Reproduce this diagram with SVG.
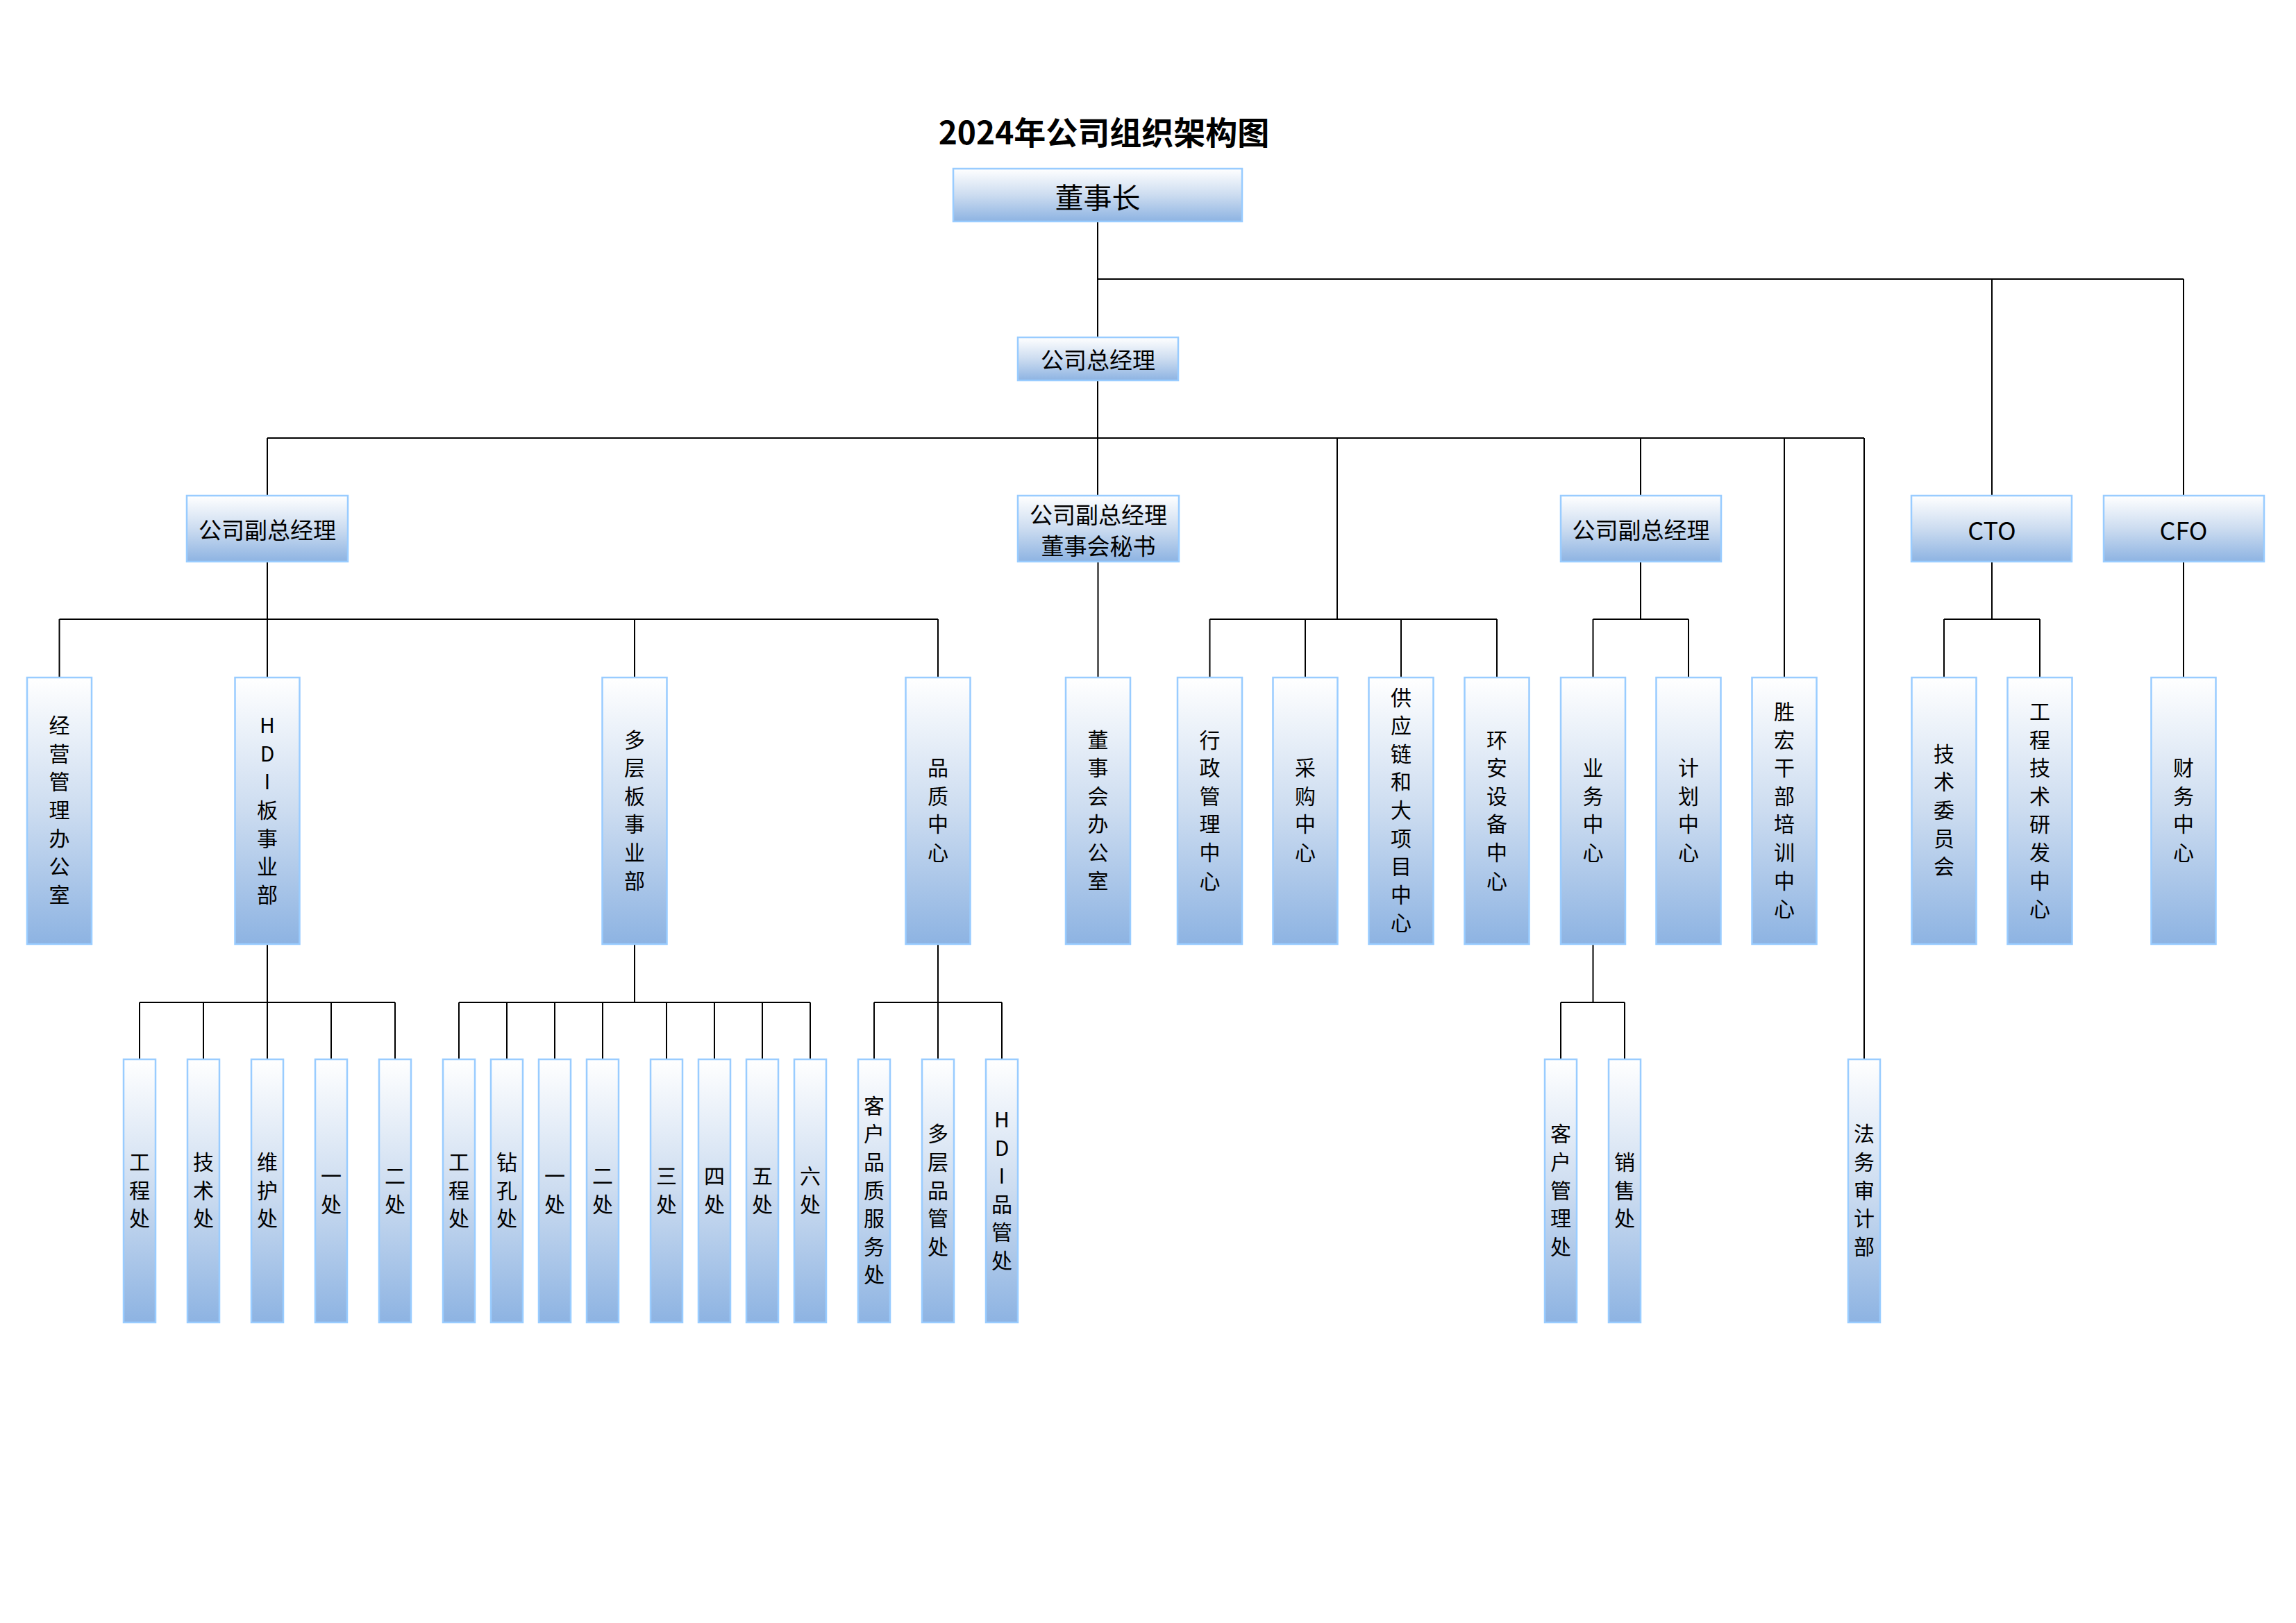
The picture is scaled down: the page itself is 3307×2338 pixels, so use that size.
<svg xmlns="http://www.w3.org/2000/svg" width="3307" height="2338" viewBox="0 0 3307 2338">
<style>
text{font-family:"Noto Sans CJK SC","Microsoft YaHei","Noto Sans",sans-serif;fill:#000}
.title{font-size:46px;font-weight:bold;text-anchor:middle}
.box{fill:url(#grad);stroke:#99CCFF;stroke-width:2.5}
.h{font-size:33px;text-anchor:middle;dominant-baseline:central}
.big{font-size:41px}
.lat{font-size:36px}
.v{font-size:30px;text-anchor:middle;dominant-baseline:central;transform:translateY(-3px)}
.conn{fill:none;stroke:#000;stroke-width:2}
</style>
<defs>
<linearGradient id="grad" x1="0" y1="0" x2="0" y2="1">
<stop offset="0" stop-color="#FFFFFF"/>
<stop offset="0.5" stop-color="#CCDCF0"/>
<stop offset="1" stop-color="#8DB3E2"/>
</linearGradient>
</defs>
<rect width="3307" height="2338" fill="#fff"/>
<text id="title" class="title" x="1590" y="208">2024年公司组织架构图</text>

<g id="connectors" class="conn">
<path d="M1581,319V486 M1581,402H3145 M2869,402V714 M3145,402V714 M1581,548V714"/>
<path d="M385,631H2685 M385,631V714 M1926,631V892 M2363,631V714 M2570,631V976 M2685,631V1526"/>
<path d="M385,809V976 M85.5,892H1351 M85.5,892V976 M914,892V976 M1351,892V976"/>
<path d="M1581.5,809V976"/>
<path d="M1742.5,892H2156 M1742.5,892V976 M1880,892V976 M2018,892V976 M2156,892V976"/>
<path d="M2363,809V892 M2294.5,892H2432 M2294.5,892V976 M2432,892V976"/>
<path d="M2869,809V892 M2800,892H2938 M2800,892V976 M2938,892V976"/>
<path d="M3145,809V976"/>
<path d="M385,1360V1526 M201,1444H569 M201,1444V1526 M293,1444V1526 M477,1444V1526 M569,1444V1526"/>
<path d="M914,1360V1444 M661,1444H1167 M661,1444V1526 M730,1444V1526 M799,1444V1526 M868,1444V1526 M960,1444V1526 M1029,1444V1526 M1098,1444V1526 M1167,1444V1526"/>
<path d="M1351,1360V1526 M1259,1444H1443 M1259,1444V1526 M1443,1444V1526"/>
<path d="M2294.5,1360V1444 M2248,1444H2340 M2248,1444V1526 M2340,1444V1526"/>
</g>

<g id="n-chairman"><rect class="box" x="1373" y="243" width="416" height="76"/><text class="h big" x="1581" y="282">董事长</text></g>
<g id="n-gm"><rect class="box" x="1466" y="486" width="231" height="62"/><text class="h" x="1581.5" y="517">公司总经理</text></g>

<g id="n-vp1"><rect class="box" x="269" y="714" width="232" height="95"/><text class="h" x="385" y="761.5">公司副总经理</text></g>
<g id="n-vp2"><rect class="box" x="1466" y="714" width="232" height="95"/><text class="h" x="1582" y="740">公司副总经理</text><text class="h" x="1582" y="785">董事会秘书</text></g>
<g id="n-vp3"><rect class="box" x="2248" y="714" width="231" height="95"/><text class="h" x="2363.5" y="761.5">公司副总经理</text></g>
<g id="n-cto"><rect class="box" x="2753" y="714" width="231" height="95"/><text class="h lat" x="2869" y="761.5">CTO</text></g>
<g id="n-cfo"><rect class="box" x="3030" y="714" width="231" height="95"/><text class="h lat" x="3145" y="761.5">CFO</text></g>

<g id="n-jygl"><rect class="box" x="39" y="976" width="93" height="384"/><text class="v"><tspan x="85.5" y="1046.2">经</tspan><tspan x="85.5" y="1086.8">营</tspan><tspan x="85.5" y="1127.4">管</tspan><tspan x="85.5" y="1168">理</tspan><tspan x="85.5" y="1208.6">办</tspan><tspan x="85.5" y="1249.2">公</tspan><tspan x="85.5" y="1289.8">室</tspan></text></g>
<g id="n-hdi"><rect class="box" x="338.5" y="976" width="93" height="384"/><text class="v"><tspan x="385" y="1046.2">H</tspan><tspan x="385" y="1086.8">D</tspan><tspan x="385" y="1127.4">I</tspan><tspan x="385" y="1168">板</tspan><tspan x="385" y="1208.6">事</tspan><tspan x="385" y="1249.2">业</tspan><tspan x="385" y="1289.8">部</tspan></text></g>
<g id="n-dcb"><rect class="box" x="867.5" y="976" width="93" height="384"/><text class="v"><tspan x="914" y="1066.5">多</tspan><tspan x="914" y="1107.1">层</tspan><tspan x="914" y="1147.7">板</tspan><tspan x="914" y="1188.3">事</tspan><tspan x="914" y="1228.9">业</tspan><tspan x="914" y="1269.5">部</tspan></text></g>
<g id="n-pz"><rect class="box" x="1304.5" y="976" width="93" height="384"/><text class="v"><tspan x="1351" y="1107.1">品</tspan><tspan x="1351" y="1147.7">质</tspan><tspan x="1351" y="1188.3">中</tspan><tspan x="1351" y="1228.9">心</tspan></text></g>
<g id="n-dsh"><rect class="box" x="1535" y="976" width="93" height="384"/><text class="v"><tspan x="1581.5" y="1066.5">董</tspan><tspan x="1581.5" y="1107.1">事</tspan><tspan x="1581.5" y="1147.7">会</tspan><tspan x="1581.5" y="1188.3">办</tspan><tspan x="1581.5" y="1228.9">公</tspan><tspan x="1581.5" y="1269.5">室</tspan></text></g>
<g id="n-xz"><rect class="box" x="1696" y="976" width="93" height="384"/><text class="v"><tspan x="1742.5" y="1066.5">行</tspan><tspan x="1742.5" y="1107.1">政</tspan><tspan x="1742.5" y="1147.7">管</tspan><tspan x="1742.5" y="1188.3">理</tspan><tspan x="1742.5" y="1228.9">中</tspan><tspan x="1742.5" y="1269.5">心</tspan></text></g>
<g id="n-cg"><rect class="box" x="1833.5" y="976" width="93" height="384"/><text class="v"><tspan x="1880" y="1107.1">采</tspan><tspan x="1880" y="1147.7">购</tspan><tspan x="1880" y="1188.3">中</tspan><tspan x="1880" y="1228.9">心</tspan></text></g>
<g id="n-gyl"><rect class="box" x="1971.5" y="976" width="93" height="384"/><text class="v"><tspan x="2018" y="1005.6">供</tspan><tspan x="2018" y="1046.2">应</tspan><tspan x="2018" y="1086.8">链</tspan><tspan x="2018" y="1127.4">和</tspan><tspan x="2018" y="1168">大</tspan><tspan x="2018" y="1208.6">项</tspan><tspan x="2018" y="1249.2">目</tspan><tspan x="2018" y="1289.8">中</tspan><tspan x="2018" y="1330.4">心</tspan></text></g>
<g id="n-ha"><rect class="box" x="2109.5" y="976" width="93" height="384"/><text class="v"><tspan x="2156" y="1066.5">环</tspan><tspan x="2156" y="1107.1">安</tspan><tspan x="2156" y="1147.7">设</tspan><tspan x="2156" y="1188.3">备</tspan><tspan x="2156" y="1228.9">中</tspan><tspan x="2156" y="1269.5">心</tspan></text></g>
<g id="n-yw"><rect class="box" x="2248" y="976" width="93" height="384"/><text class="v"><tspan x="2294.5" y="1107.1">业</tspan><tspan x="2294.5" y="1147.7">务</tspan><tspan x="2294.5" y="1188.3">中</tspan><tspan x="2294.5" y="1228.9">心</tspan></text></g>
<g id="n-jh"><rect class="box" x="2385.5" y="976" width="93" height="384"/><text class="v"><tspan x="2432" y="1107.1">计</tspan><tspan x="2432" y="1147.7">划</tspan><tspan x="2432" y="1188.3">中</tspan><tspan x="2432" y="1228.9">心</tspan></text></g>
<g id="n-sh"><rect class="box" x="2523.5" y="976" width="93" height="384"/><text class="v"><tspan x="2570" y="1025.9">胜</tspan><tspan x="2570" y="1066.5">宏</tspan><tspan x="2570" y="1107.1">干</tspan><tspan x="2570" y="1147.7">部</tspan><tspan x="2570" y="1188.3">培</tspan><tspan x="2570" y="1228.9">训</tspan><tspan x="2570" y="1269.5">中</tspan><tspan x="2570" y="1310.1">心</tspan></text></g>
<g id="n-jswy"><rect class="box" x="2753.5" y="976" width="93" height="384"/><text class="v"><tspan x="2800" y="1086.8">技</tspan><tspan x="2800" y="1127.4">术</tspan><tspan x="2800" y="1168">委</tspan><tspan x="2800" y="1208.6">员</tspan><tspan x="2800" y="1249.2">会</tspan></text></g>
<g id="n-gcjs"><rect class="box" x="2891.5" y="976" width="93" height="384"/><text class="v"><tspan x="2938" y="1025.9">工</tspan><tspan x="2938" y="1066.5">程</tspan><tspan x="2938" y="1107.1">技</tspan><tspan x="2938" y="1147.7">术</tspan><tspan x="2938" y="1188.3">研</tspan><tspan x="2938" y="1228.9">发</tspan><tspan x="2938" y="1269.5">中</tspan><tspan x="2938" y="1310.1">心</tspan></text></g>
<g id="n-cw"><rect class="box" x="3098.5" y="976" width="93" height="384"/><text class="v"><tspan x="3145" y="1107.1">财</tspan><tspan x="3145" y="1147.7">务</tspan><tspan x="3145" y="1188.3">中</tspan><tspan x="3145" y="1228.9">心</tspan></text></g>

<g id="n-hdi-gc"><rect class="box" x="178" y="1526" width="46" height="379"/><text class="v"><tspan x="201" y="1674.9">工</tspan><tspan x="201" y="1715.5">程</tspan><tspan x="201" y="1756.1">处</tspan></text></g>
<g id="n-hdi-js"><rect class="box" x="270" y="1526" width="46" height="379"/><text class="v"><tspan x="293" y="1674.9">技</tspan><tspan x="293" y="1715.5">术</tspan><tspan x="293" y="1756.1">处</tspan></text></g>
<g id="n-hdi-wh"><rect class="box" x="362" y="1526" width="46" height="379"/><text class="v"><tspan x="385" y="1674.9">维</tspan><tspan x="385" y="1715.5">护</tspan><tspan x="385" y="1756.1">处</tspan></text></g>
<g id="n-hdi-1"><rect class="box" x="454" y="1526" width="46" height="379"/><text class="v"><tspan x="477" y="1695.2">一</tspan><tspan x="477" y="1735.8">处</tspan></text></g>
<g id="n-hdi-2"><rect class="box" x="546" y="1526" width="46" height="379"/><text class="v"><tspan x="569" y="1695.2">二</tspan><tspan x="569" y="1735.8">处</tspan></text></g>

<g id="n-dc-gc"><rect class="box" x="638" y="1526" width="46" height="379"/><text class="v"><tspan x="661" y="1674.9">工</tspan><tspan x="661" y="1715.5">程</tspan><tspan x="661" y="1756.1">处</tspan></text></g>
<g id="n-dc-zk"><rect class="box" x="707" y="1526" width="46" height="379"/><text class="v"><tspan x="730" y="1674.9">钻</tspan><tspan x="730" y="1715.5">孔</tspan><tspan x="730" y="1756.1">处</tspan></text></g>
<g id="n-dc-1"><rect class="box" x="776" y="1526" width="46" height="379"/><text class="v"><tspan x="799" y="1695.2">一</tspan><tspan x="799" y="1735.8">处</tspan></text></g>
<g id="n-dc-2"><rect class="box" x="845" y="1526" width="46" height="379"/><text class="v"><tspan x="868" y="1695.2">二</tspan><tspan x="868" y="1735.8">处</tspan></text></g>
<g id="n-dc-3"><rect class="box" x="937" y="1526" width="46" height="379"/><text class="v"><tspan x="960" y="1695.2">三</tspan><tspan x="960" y="1735.8">处</tspan></text></g>
<g id="n-dc-4"><rect class="box" x="1006" y="1526" width="46" height="379"/><text class="v"><tspan x="1029" y="1695.2">四</tspan><tspan x="1029" y="1735.8">处</tspan></text></g>
<g id="n-dc-5"><rect class="box" x="1075" y="1526" width="46" height="379"/><text class="v"><tspan x="1098" y="1695.2">五</tspan><tspan x="1098" y="1735.8">处</tspan></text></g>
<g id="n-dc-6"><rect class="box" x="1144" y="1526" width="46" height="379"/><text class="v"><tspan x="1167" y="1695.2">六</tspan><tspan x="1167" y="1735.8">处</tspan></text></g>

<g id="n-pz-kh"><rect class="box" x="1236" y="1526" width="46" height="379"/><text class="v"><tspan x="1259" y="1593.7">客</tspan><tspan x="1259" y="1634.3">户</tspan><tspan x="1259" y="1674.9">品</tspan><tspan x="1259" y="1715.5">质</tspan><tspan x="1259" y="1756.1">服</tspan><tspan x="1259" y="1796.7">务</tspan><tspan x="1259" y="1837.3">处</tspan></text></g>
<g id="n-pz-dc"><rect class="box" x="1328" y="1526" width="46" height="379"/><text class="v"><tspan x="1351" y="1634.3">多</tspan><tspan x="1351" y="1674.9">层</tspan><tspan x="1351" y="1715.5">品</tspan><tspan x="1351" y="1756.1">管</tspan><tspan x="1351" y="1796.7">处</tspan></text></g>
<g id="n-pz-hdi"><rect class="box" x="1420" y="1526" width="46" height="379"/><text class="v"><tspan x="1443" y="1614">H</tspan><tspan x="1443" y="1654.6">D</tspan><tspan x="1443" y="1695.2">I</tspan><tspan x="1443" y="1735.8">品</tspan><tspan x="1443" y="1776.4">管</tspan><tspan x="1443" y="1817">处</tspan></text></g>

<g id="n-yw-kh"><rect class="box" x="2225" y="1526" width="46" height="379"/><text class="v"><tspan x="2248" y="1634.3">客</tspan><tspan x="2248" y="1674.9">户</tspan><tspan x="2248" y="1715.5">管</tspan><tspan x="2248" y="1756.1">理</tspan><tspan x="2248" y="1796.7">处</tspan></text></g>
<g id="n-yw-xs"><rect class="box" x="2317" y="1526" width="46" height="379"/><text class="v"><tspan x="2340" y="1674.9">销</tspan><tspan x="2340" y="1715.5">售</tspan><tspan x="2340" y="1756.1">处</tspan></text></g>
<g id="n-fw"><rect class="box" x="2662" y="1526" width="46" height="379"/><text class="v"><tspan x="2685" y="1634.3">法</tspan><tspan x="2685" y="1674.9">务</tspan><tspan x="2685" y="1715.5">审</tspan><tspan x="2685" y="1756.1">计</tspan><tspan x="2685" y="1796.7">部</tspan></text></g>
</svg>
